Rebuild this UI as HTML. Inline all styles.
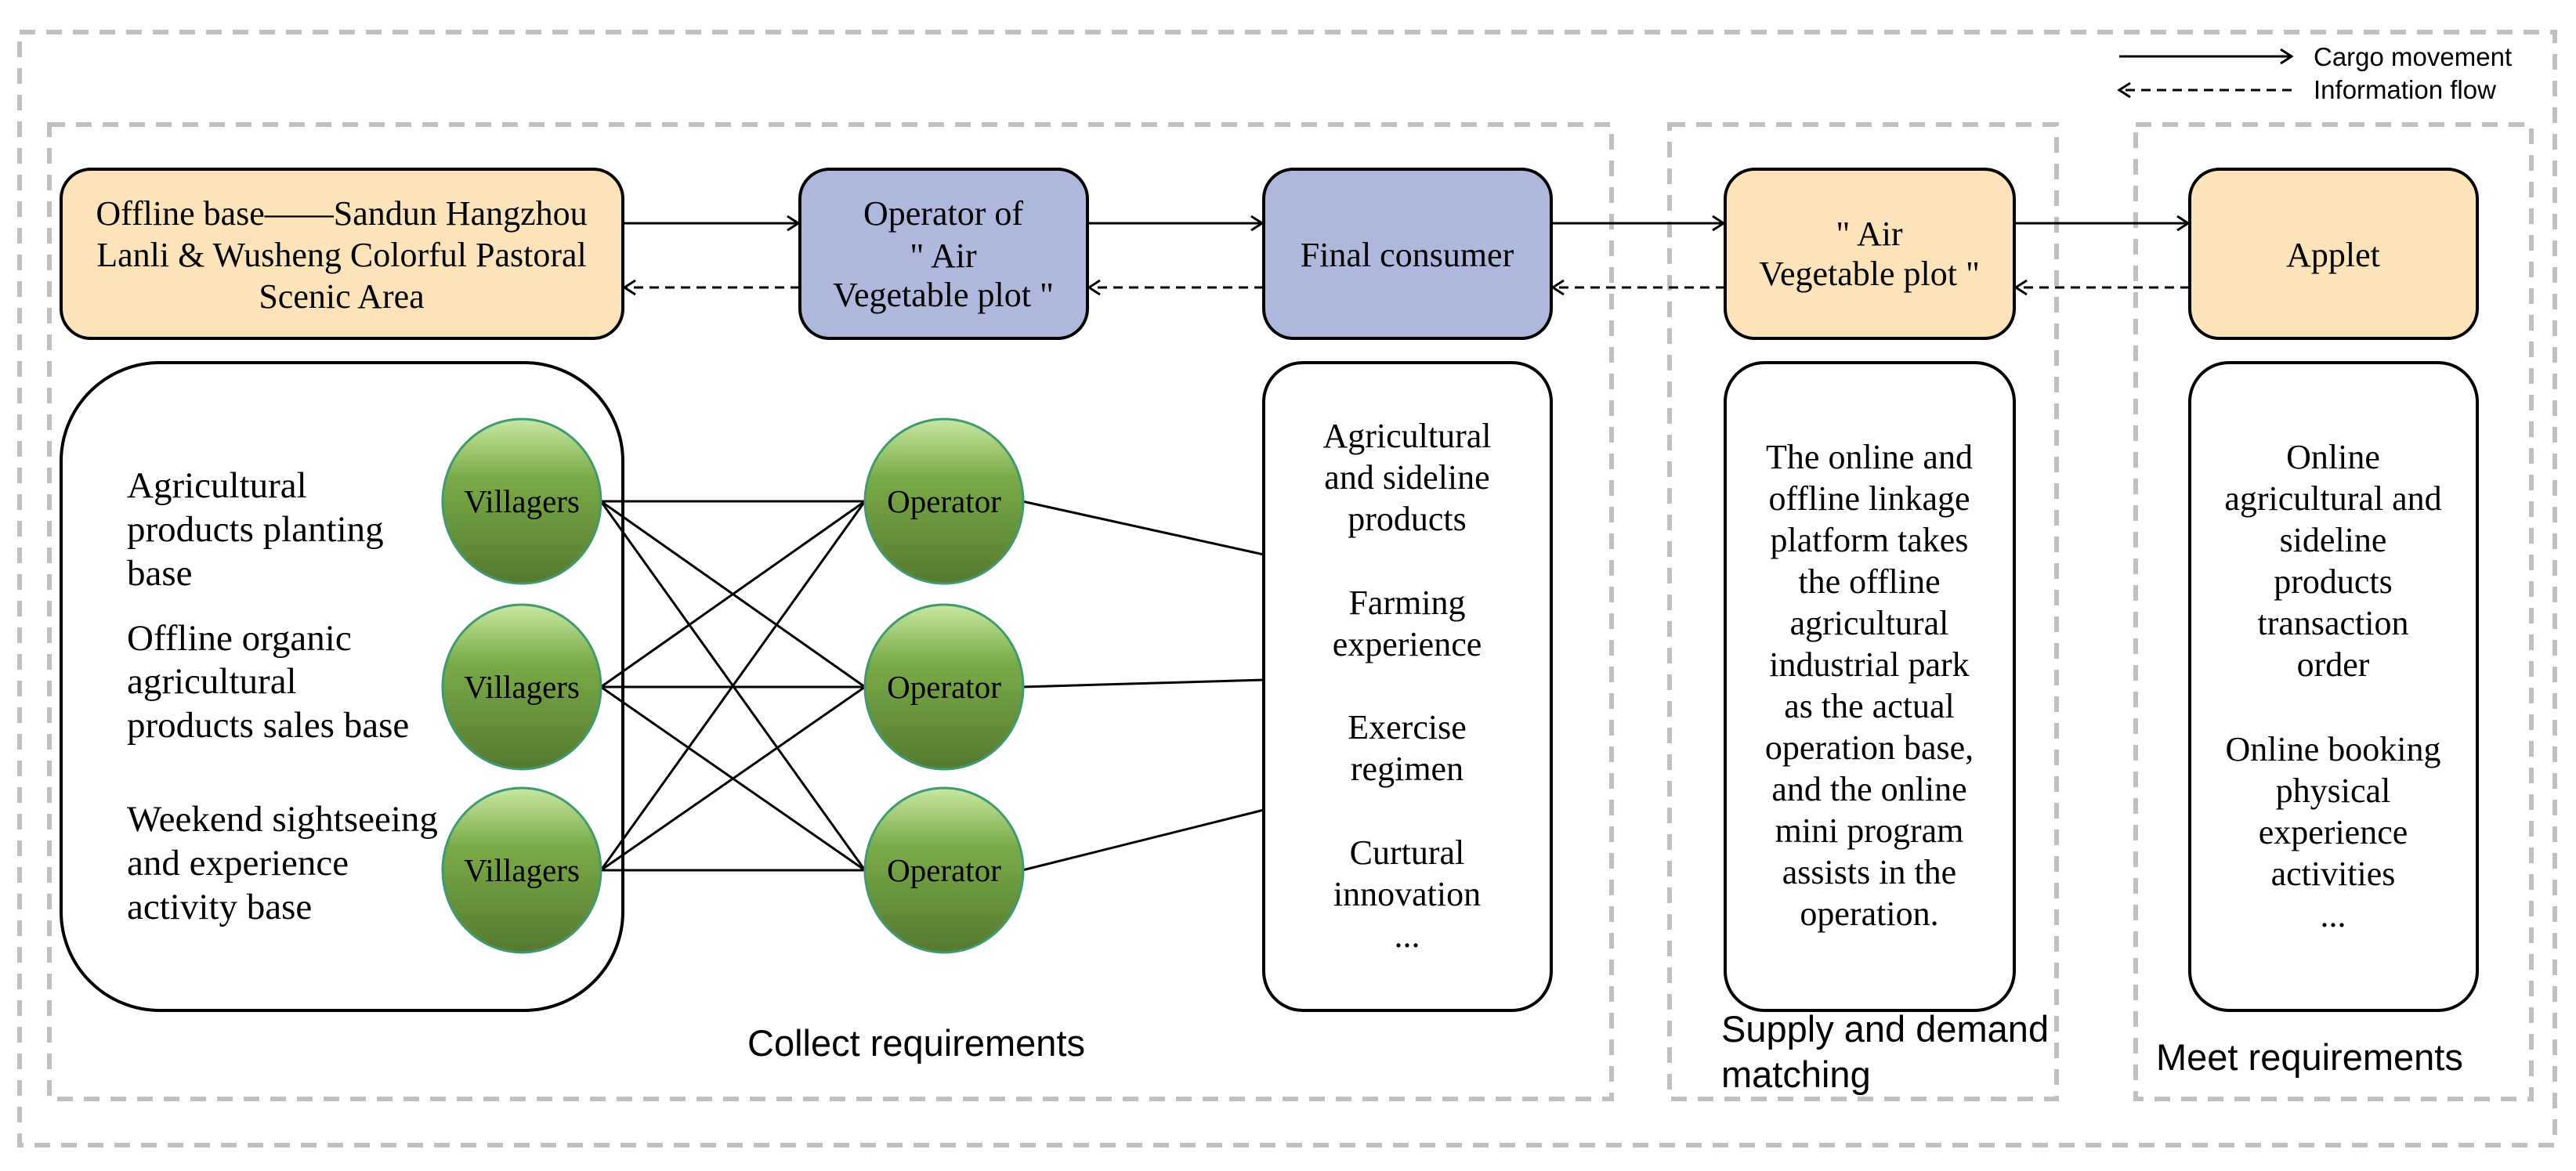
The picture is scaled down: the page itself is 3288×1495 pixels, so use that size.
<!DOCTYPE html>
<html><head><meta charset="utf-8"><style>
html,body{margin:0;padding:0;background:#fff}
svg{display:block}
.s{font-family:"Liberation Serif",serif;font-size:44px;fill:#000}
.a{font-family:"Liberation Sans",sans-serif;fill:#000}
</style></head><body>
<svg width="3288" height="1495" viewBox="0 0 3288 1495" xmlns="http://www.w3.org/2000/svg">
<defs>
<linearGradient id="g" x1="0" y1="0" x2="0" y2="1">
<stop offset="0" stop-color="#c8e8a2"/><stop offset="0.35" stop-color="#7aab48"/><stop offset="1" stop-color="#557a30"/>
</linearGradient>
<marker id="ar" markerWidth="20" markerHeight="20" refX="16" refY="10" orient="auto" markerUnits="userSpaceOnUse">
<path d="M2,1 L16,10 L2,19" fill="none" stroke="#000" stroke-width="3"/></marker>
</defs>
<g fill="none" stroke="#c0c0c0" stroke-width="6" stroke-dasharray="20,14">
<rect x="25" y="41" width="3236" height="1421"/>
<rect x="63" y="159" width="1994" height="1244"/>
<rect x="2131" y="159" width="494" height="1244"/>
<rect x="2726" y="159" width="505" height="1244"/>
</g>
<line x1="2705" y1="72" x2="2925" y2="72" stroke="#000" stroke-width="3" marker-end="url(#ar)"/>
<line x1="2925" y1="115" x2="2705" y2="115" stroke="#000" stroke-width="3" stroke-dasharray="12,8" marker-end="url(#ar)"/>
<text class="a" x="2953" y="84" font-size="33">Cargo movement</text>
<text class="a" x="2953" y="126" font-size="33">Information flow</text>
<g stroke="#000" stroke-width="4">
<rect x="78" y="216" width="717" height="216" rx="38" fill="#fde3b9"/>
<rect x="1021" y="216" width="367" height="216" rx="38" fill="#adb8dc"/>
<rect x="1613" y="216" width="367" height="216" rx="38" fill="#adb8dc"/>
<rect x="2202" y="216" width="369" height="216" rx="38" fill="#fde3b9"/>
<rect x="2795" y="216" width="367" height="216" rx="38" fill="#fde3b9"/>
<rect x="78" y="463" width="717" height="827" rx="126" fill="#fff"/>
<rect x="1613" y="463" width="367" height="827" rx="50" fill="#fff"/>
<rect x="2202" y="463" width="369" height="827" rx="50" fill="#fff"/>
<rect x="2795" y="463" width="367" height="827" rx="50" fill="#fff"/>
</g>
<g class="s" text-anchor="middle">
<text x="436" y="287">Offline base——Sandun Hangzhou</text>
<text x="436" y="340">Lanli &amp; Wusheng Colorful Pastoral</text>
<text x="436" y="393">Scenic Area</text>
<text x="1204" y="287">Operator of</text>
<text x="1204" y="341">"  Air</text>
<text x="1204" y="391">Vegetable  plot "</text>
<text x="1796" y="340">Final consumer</text>
<text x="2386" y="313">"  Air</text>
<text x="2386" y="364">Vegetable  plot "</text>
<text x="2978" y="340">Applet</text>
</g>
<g stroke="#000" stroke-width="3">
<line x1="795" y1="285" x2="1019" y2="285" marker-end="url(#ar)"/>
<line x1="1388" y1="285" x2="1611" y2="285" marker-end="url(#ar)"/>
<line x1="1980" y1="285" x2="2200" y2="285" marker-end="url(#ar)"/>
<line x1="2571" y1="285" x2="2793" y2="285" marker-end="url(#ar)"/>
<g stroke-dasharray="12,8">
<line x1="1021" y1="367" x2="797" y2="367" marker-end="url(#ar)"/>
<line x1="1613" y1="367" x2="1390" y2="367" marker-end="url(#ar)"/>
<line x1="2202" y1="367" x2="1982" y2="367" marker-end="url(#ar)"/>
<line x1="2795" y1="367" x2="2573" y2="367" marker-end="url(#ar)"/>
</g>
<line x1="767" y1="640" x2="1104" y2="640"/><line x1="767" y1="640" x2="1104" y2="877"/><line x1="767" y1="640" x2="1104" y2="1111"/>
<line x1="767" y1="877" x2="1104" y2="640"/><line x1="767" y1="877" x2="1104" y2="877"/><line x1="767" y1="877" x2="1104" y2="1111"/>
<line x1="767" y1="1111" x2="1104" y2="640"/><line x1="767" y1="1111" x2="1104" y2="877"/><line x1="767" y1="1111" x2="1104" y2="1111"/>
<line x1="1305" y1="640" x2="1613" y2="708"/>
<line x1="1305" y1="877" x2="1613" y2="868"/>
<line x1="1305" y1="1111" x2="1613" y2="1034"/>
</g>
<g fill="url(#g)" stroke="#3f9a6e" stroke-width="3">
<ellipse cx="666" cy="640" rx="101" ry="105"/><ellipse cx="666" cy="877" rx="101" ry="105"/><ellipse cx="666" cy="1111" rx="101" ry="105"/>
<ellipse cx="1205" cy="640" rx="101" ry="105"/><ellipse cx="1205" cy="877" rx="101" ry="105"/><ellipse cx="1205" cy="1111" rx="101" ry="105"/>
</g>
<g class="s" text-anchor="middle" style="font-size:41px">
<text x="666" y="654">Villagers</text><text x="666" y="891">Villagers</text><text x="666" y="1125">Villagers</text>
<text x="1205" y="654">Operator</text><text x="1205" y="891">Operator</text><text x="1205" y="1125">Operator</text>
</g>
<g class="s" style="font-size:47px">
<text x="162" y="635">Agricultural</text><text x="162" y="691">products planting</text><text x="162" y="747">base</text>
<text x="162" y="830">Offline organic</text><text x="162" y="885">agricultural</text><text x="162" y="941">products sales base</text>
<text x="162" y="1061">Weekend sightseeing</text><text x="162" y="1117">and experience</text><text x="162" y="1173">activity base</text>
</g>
<g class="s" text-anchor="middle">
<text x="1796" y="571">Agricultural</text><text x="1796" y="624">and sideline</text><text x="1796" y="677">products</text>
<text x="1796" y="784">Farming</text><text x="1796" y="837">experience</text>
<text x="1796" y="943">Exercise</text><text x="1796" y="996">regimen</text>
<text x="1796" y="1103">Curtural</text><text x="1796" y="1156">innovation</text><text x="1796" y="1209">...</text>
<text x="2386" y="598">The online and</text><text x="2386" y="651">offline linkage</text><text x="2386" y="704">platform takes</text><text x="2386" y="757">the offline</text><text x="2386" y="810">agricultural</text><text x="2386" y="863">industrial park</text><text x="2386" y="916">as the actual</text><text x="2386" y="969">operation base,</text><text x="2386" y="1022">and the online</text><text x="2386" y="1075">mini program</text><text x="2386" y="1128">assists in the</text><text x="2386" y="1181">operation.</text>
<text x="2978" y="598">Online</text><text x="2978" y="651">agricultural and</text><text x="2978" y="704">sideline</text><text x="2978" y="757">products</text><text x="2978" y="810">transaction</text><text x="2978" y="863">order</text>
<text x="2978" y="971">Online booking</text><text x="2978" y="1024">physical</text><text x="2978" y="1077">experience</text><text x="2978" y="1130">activities</text><text x="2978" y="1183">...</text>
</g>
<g class="a" font-size="47">
<text x="954" y="1348">Collect requirements</text>
<text x="2197" y="1330">Supply and demand</text>
<text x="2197" y="1388">matching</text>
<text x="2752" y="1366">Meet  requirements</text>
</g>
</svg>
</body></html>
